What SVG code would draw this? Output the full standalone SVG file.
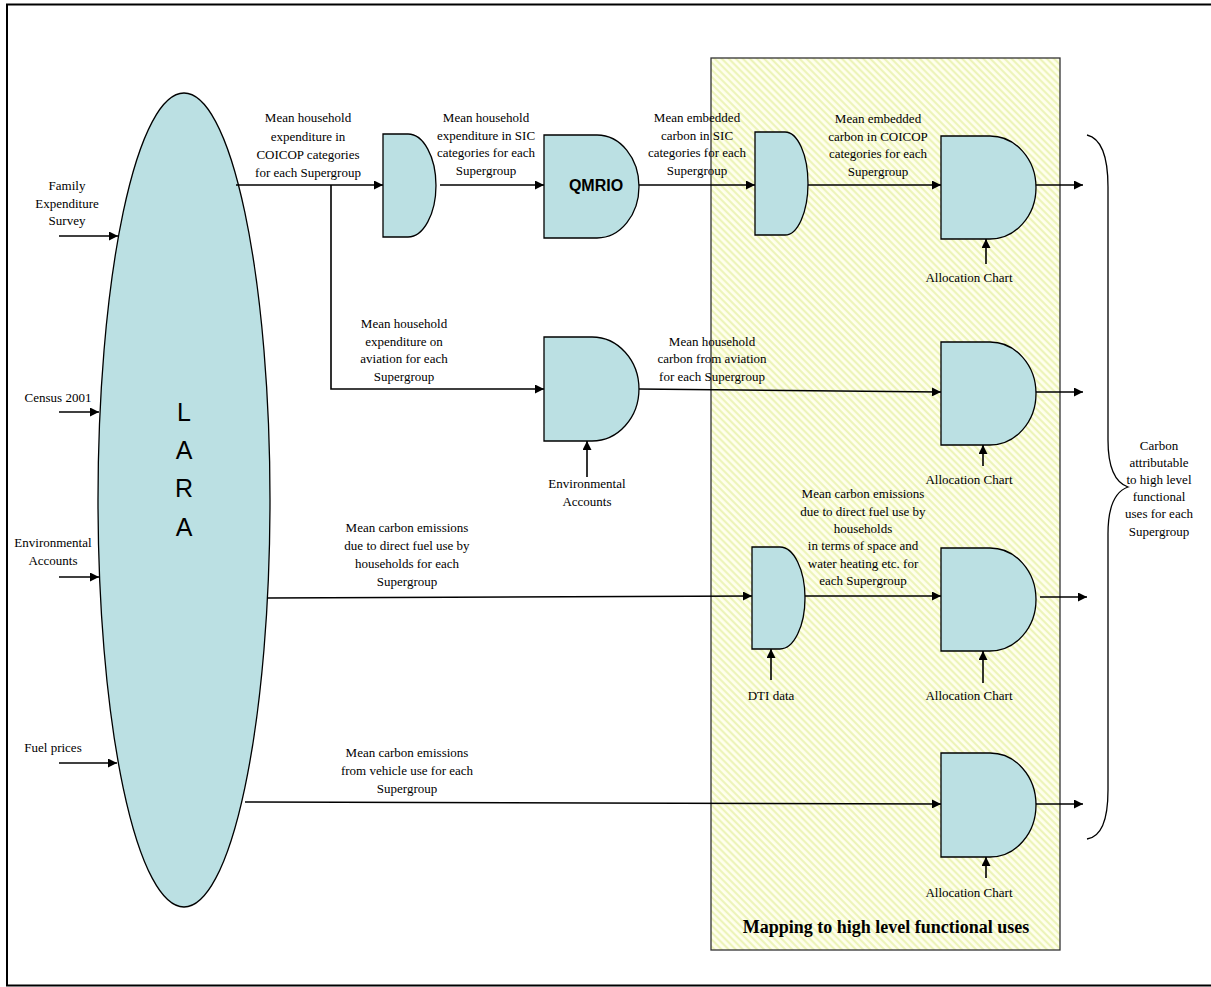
<svg xmlns="http://www.w3.org/2000/svg" width="1211" height="987" viewBox="0 0 1211 987">
<style>
.t{font-family:"Liberation Serif","Times New Roman",serif;font-size:13px;fill:#000;text-anchor:middle}
.gate{fill:#BBE0E3;stroke:#000;stroke-width:1.3}
.c{fill:none;stroke:#000;stroke-width:1.6}
.cb{fill:none;stroke:#000;stroke-width:1.3}
</style>
<defs>
<pattern id="hatch" patternUnits="userSpaceOnUse" width="5" height="5" patternTransform="rotate(45)">
<rect width="5" height="5" fill="#FFFFEE"/>
<line x1="0" y1="1.2" x2="5" y2="1.2" stroke="#EBF3B4" stroke-width="2"/>
</pattern>
<marker id="ah" viewBox="0 0 10 10" refX="10" refY="5" markerWidth="10" markerHeight="9" markerUnits="userSpaceOnUse" orient="auto">
<path d="M0,0 L10,5 L0,10 z" fill="#000"/>
</marker>
</defs>
<rect x="0" y="0" width="1211" height="987" fill="#fff"/>
<rect x="7" y="4.5" width="1210" height="981" fill="none" stroke="#000" stroke-width="2"/>

<g id="mapping-box">
<rect x="711" y="58" width="349" height="892" fill="url(#hatch)" stroke="#333" stroke-width="1.3"/>
<text x="886" y="933" style="font-family:'Liberation Serif','Times New Roman',serif;font-size:18px;font-weight:bold;text-anchor:middle">Mapping to high level functional uses</text>
</g>

<g id="lara">
<ellipse cx="184" cy="500" rx="86" ry="407" fill="#BBE0E3" stroke="#000" stroke-width="1.3"/>
<g style="font-family:'Liberation Sans',Arial,sans-serif;font-size:25px;text-anchor:middle">
<text x="184" y="421">L</text>
<text x="184" y="459">A</text>
<text x="184" y="497">R</text>
<text x="184" y="536">A</text>
</g>
</g>

<g id="gate-coicop-sic"><path class="gate" d="M383,134 H408 A28,51.5 0 0 1 408,237 H383 Z"/></g>
<g id="qmrio"><path class="gate" d="M544,135 H597 A42,51.5 0 0 1 597,238 H544 Z"/>
<text x="596" y="191" style="font-family:'Liberation Sans',Arial,sans-serif;font-size:16px;font-weight:bold;text-anchor:middle">QMRIO</text></g>
<g id="gate-sic-coicop"><path class="gate" d="M755,132 H785 A23,51.5 0 0 1 785,235 H755 Z"/></g>
<g id="gate-alloc-1"><path class="gate" d="M941,136 H990 A46,51.5 0 0 1 990,239 H941 Z"/></g>
<g id="gate-aviation"><path class="gate" d="M544,337 H592 A47,52 0 0 1 592,441 H544 Z"/></g>
<g id="gate-alloc-2"><path class="gate" d="M941,342 H990 A46,51.5 0 0 1 990,445 H941 Z"/></g>
<g id="gate-dti"><path class="gate" d="M752,547 H780 A25,51 0 0 1 780,649 H752 Z"/></g>
<g id="gate-alloc-3"><path class="gate" d="M941,548 H990 A46,51.5 0 0 1 990,651 H941 Z"/></g>
<g id="gate-alloc-4"><path class="gate" d="M941,753 H990 A46,52 0 0 1 990,857 H941 Z"/></g>

<g id="connectors">
<line class="c" x1="59" y1="236" x2="118" y2="236" marker-end="url(#ah)"/>
<line class="c" x1="59" y1="412" x2="99" y2="412" marker-end="url(#ah)"/>
<line class="c" x1="59" y1="577" x2="99" y2="577" marker-end="url(#ah)"/>
<line class="c" x1="59" y1="763" x2="117" y2="763" marker-end="url(#ah)"/>
<line class="c" x1="236" y1="185" x2="383" y2="185" marker-end="url(#ah)"/>
<polyline class="c" points="331,185 331,389 544,389" marker-end="url(#ah)"/>
<line class="c" x1="440" y1="185" x2="544" y2="185" marker-end="url(#ah)"/>
<line class="c" x1="639" y1="185" x2="755" y2="185" marker-end="url(#ah)"/>
<line class="c" x1="808" y1="185" x2="941" y2="185" marker-end="url(#ah)"/>
<line class="c" x1="1036" y1="185" x2="1083" y2="185" marker-end="url(#ah)"/>
<line class="c" x1="986" y1="264" x2="986" y2="239" marker-end="url(#ah)"/>
<line class="c" x1="639" y1="389" x2="941" y2="392" marker-end="url(#ah)"/>
<line class="c" x1="587" y1="477" x2="587" y2="441" marker-end="url(#ah)"/>
<line class="c" x1="1036" y1="392" x2="1083" y2="392" marker-end="url(#ah)"/>
<line class="c" x1="983" y1="466" x2="983" y2="445" marker-end="url(#ah)"/>
<line class="c" x1="268" y1="598" x2="752" y2="596" marker-end="url(#ah)"/>
<line class="c" x1="805" y1="596" x2="941" y2="596" marker-end="url(#ah)"/>
<line class="c" x1="771" y1="680" x2="771" y2="649" marker-end="url(#ah)"/>
<line class="c" x1="1040" y1="597" x2="1087" y2="597" marker-end="url(#ah)"/>
<line class="c" x1="983" y1="683" x2="983" y2="651" marker-end="url(#ah)"/>
<line class="c" x1="245" y1="802" x2="941" y2="804" marker-end="url(#ah)"/>
<line class="c" x1="1036" y1="804" x2="1083" y2="804" marker-end="url(#ah)"/>
<line class="c" x1="986" y1="878" x2="986" y2="857" marker-end="url(#ah)"/>
<path class="cb" d="M1087,135 Q1108,140 1108,187 V440 Q1108,480 1128,487 Q1108,494 1108,534 V790 Q1108,836 1087,839"/>
</g>

<g id="labels" class="t">
<text x="67" y="190">Family</text>
<text x="67" y="208">Expenditure</text>
<text x="67" y="225">Survey</text>
<text x="58" y="402">Census 2001</text>
<text x="53" y="547">Environmental</text>
<text x="53" y="565">Accounts</text>
<text x="53" y="752">Fuel prices</text>

<text x="308" y="122">Mean household</text>
<text x="308" y="141">expenditure in</text>
<text x="308" y="159">COICOP categories</text>
<text x="308" y="177">for each Supergroup</text>

<text x="486" y="122">Mean household</text>
<text x="486" y="140">expenditure in SIC</text>
<text x="486" y="157">categories for each</text>
<text x="486" y="175">Supergroup</text>

<text x="697" y="122">Mean embedded</text>
<text x="697" y="140">carbon in SIC</text>
<text x="697" y="157">categories for each</text>
<text x="697" y="175">Supergroup</text>

<text x="878" y="123">Mean embedded</text>
<text x="878" y="141">carbon in COICOP</text>
<text x="878" y="158">categories for each</text>
<text x="878" y="176">Supergroup</text>

<text x="969" y="282">Allocation Chart</text>

<text x="404" y="328">Mean household</text>
<text x="404" y="346">expenditure on</text>
<text x="404" y="363">aviation for each</text>
<text x="404" y="381">Supergroup</text>

<text x="712" y="346">Mean household</text>
<text x="712" y="363">carbon from aviation</text>
<text x="712" y="381">for each Supergroup</text>

<text x="587" y="488">Environmental</text>
<text x="587" y="506">Accounts</text>

<text x="969" y="484">Allocation Chart</text>

<text x="863" y="498">Mean carbon emissions</text>
<text x="863" y="516">due to direct fuel use by</text>
<text x="863" y="533">households</text>
<text x="863" y="550">in terms of space and</text>
<text x="863" y="568">water heating etc. for</text>
<text x="863" y="585">each Supergroup</text>

<text x="407" y="532">Mean carbon emissions</text>
<text x="407" y="550">due to direct fuel use by</text>
<text x="407" y="568">households for each</text>
<text x="407" y="586">Supergroup</text>

<text x="771" y="700">DTI data</text>
<text x="969" y="700">Allocation Chart</text>

<text x="407" y="757">Mean carbon emissions</text>
<text x="407" y="775">from vehicle use for each</text>
<text x="407" y="793">Supergroup</text>

<text x="969" y="897">Allocation Chart</text>

<text x="1159" y="450">Carbon</text>
<text x="1159" y="467">attributable</text>
<text x="1159" y="484">to high level</text>
<text x="1159" y="501">functional</text>
<text x="1159" y="518">uses for each</text>
<text x="1159" y="536">Supergroup</text>
</g>
</svg>
